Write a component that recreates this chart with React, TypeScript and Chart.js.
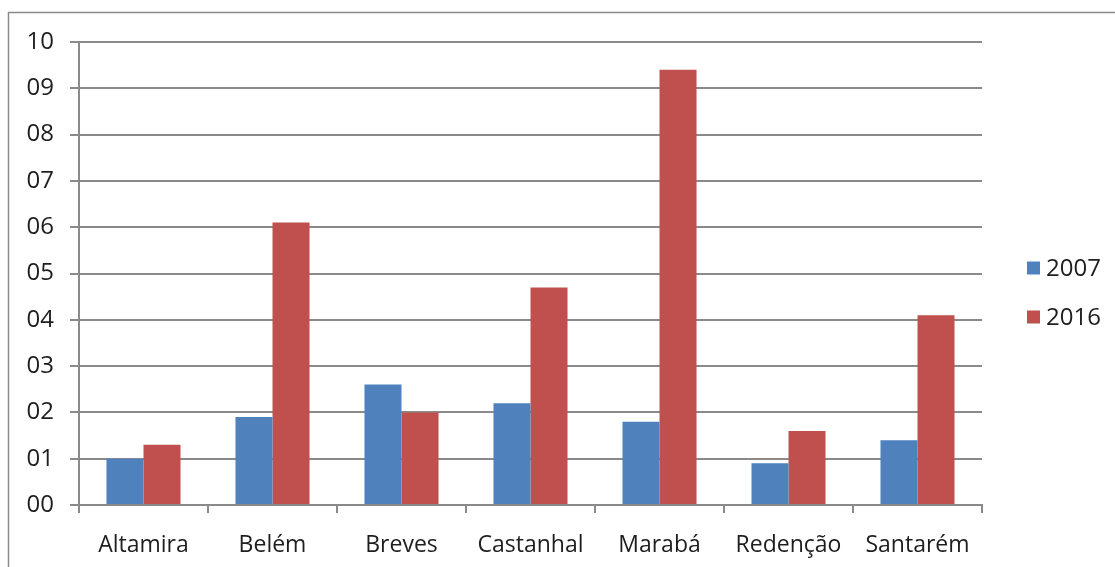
import React, { useEffect, useRef } from "react";
import { Chart, registerables } from "chart.js";

Chart.register(...registerables);

const categories = ["Altamira", "Belém", "Breves", "Castanhal", "Marabá", "Redenção", "Santarém"];
const series2007 = [1.0, 1.9, 2.6, 2.2, 1.8, 0.9, 1.4];
const series2016 = [1.3, 6.1, 2.0, 4.7, 9.4, 1.6, 4.1];
const yTickLabels = ["00", "01", "02", "03", "04", "05", "06", "07", "08", "09", "10"];
const seriesNames = ["2007", "2016"];
const seriesColors = ["#4F81BD", "#C0504D"];

const FONT = "'Open Sans', 'Liberation Sans', sans-serif";
const TEXT = "#1e1e1e";
const GRID = "#8a8a8a";

const framePlugin = {
  id: "frame",
  beforeDraw(chart: any) {
    const ctx = chart.ctx;
    ctx.save();
    ctx.fillStyle = "#ffffff";
    ctx.fillRect(0, 0, chart.width, chart.height);
    ctx.strokeStyle = "#8a8a8a";
    ctx.lineWidth = 1.5;
    ctx.beginPath();
    ctx.moveTo(8.5, chart.height);
    ctx.lineTo(8.5, 12.5);
    ctx.lineTo(chart.width, 12.5);
    ctx.stroke();
    ctx.restore();
  },
};

const legendPlugin = {
  id: "customLegend",
  afterDraw(chart: any) {
    const ctx = chart.ctx;
    ctx.save();
    const ys = [268, 317];
    chart.data.datasets.forEach((ds: any, i: number) => {
      const y = ys[i];
      ctx.fillStyle = ds.backgroundColor;
      ctx.fillRect(1027, y - 6.5, 13, 13);
      ctx.fillStyle = TEXT;
      ctx.font = `24px ${FONT}`;
      ctx.textBaseline = "middle";
      ctx.textAlign = "left";
      ctx.fillText(ds.label, 1046, y + 1);
    });
    ctx.restore();
  },
};

export default function App() {
  const ref = useRef<HTMLCanvasElement | null>(null);
  useEffect(() => {
    if (!ref.current) return;
    const chart = new Chart(ref.current, {
      type: "bar",
      data: {
        labels: categories,
        datasets: [
          { label: seriesNames[0], data: series2007, backgroundColor: seriesColors[0], categoryPercentage: 0.574, barPercentage: 1 },
          { label: seriesNames[1], data: series2016, backgroundColor: seriesColors[1], categoryPercentage: 0.574, barPercentage: 1 },
        ],
      },
      options: {
        animation: false,
        responsive: false,
        devicePixelRatio: 1,
        layout: { padding: { top: 42, right: 133, left: 0, bottom: 0 } },
        plugins: { legend: { display: false }, tooltip: { enabled: false } },
        scales: {
          x: {
            afterFit: (s: any) => { s.height = 62; },
            grid: { display: true, drawOnChartArea: false, drawTicks: true, tickLength: 8, color: GRID, lineWidth: 2, offset: true },
            border: { display: true, color: GRID, width: 2 },
            ticks: { color: TEXT, font: { family: FONT, size: 23 }, padding: 19, maxRotation: 0, autoSkip: false },
          },
          y: {
            min: 0,
            max: 10,
            afterFit: (s: any) => { s.width = 79; },
            grid: { color: GRID, lineWidth: 2, tickLength: 9, drawTicks: true },
            border: { display: true, color: GRID, width: 2 },
            ticks: {
              stepSize: 1,
              color: TEXT,
              font: { family: FONT, size: 24 },
              padding: 16,
              callback: (v: any) => yTickLabels[Number(v)] ?? "",
            },
          },
        },
      },
      plugins: [framePlugin, legendPlugin],
    } as any);
    return () => chart.destroy();
  }, []);
  return (
    <div style={{ position: "fixed", left: 0, top: 0, width: 1115, height: 567, background: "#fff" }}>
      <canvas ref={ref} width={1115} height={567} style={{ display: "block" }} />
    </div>
  );
}
